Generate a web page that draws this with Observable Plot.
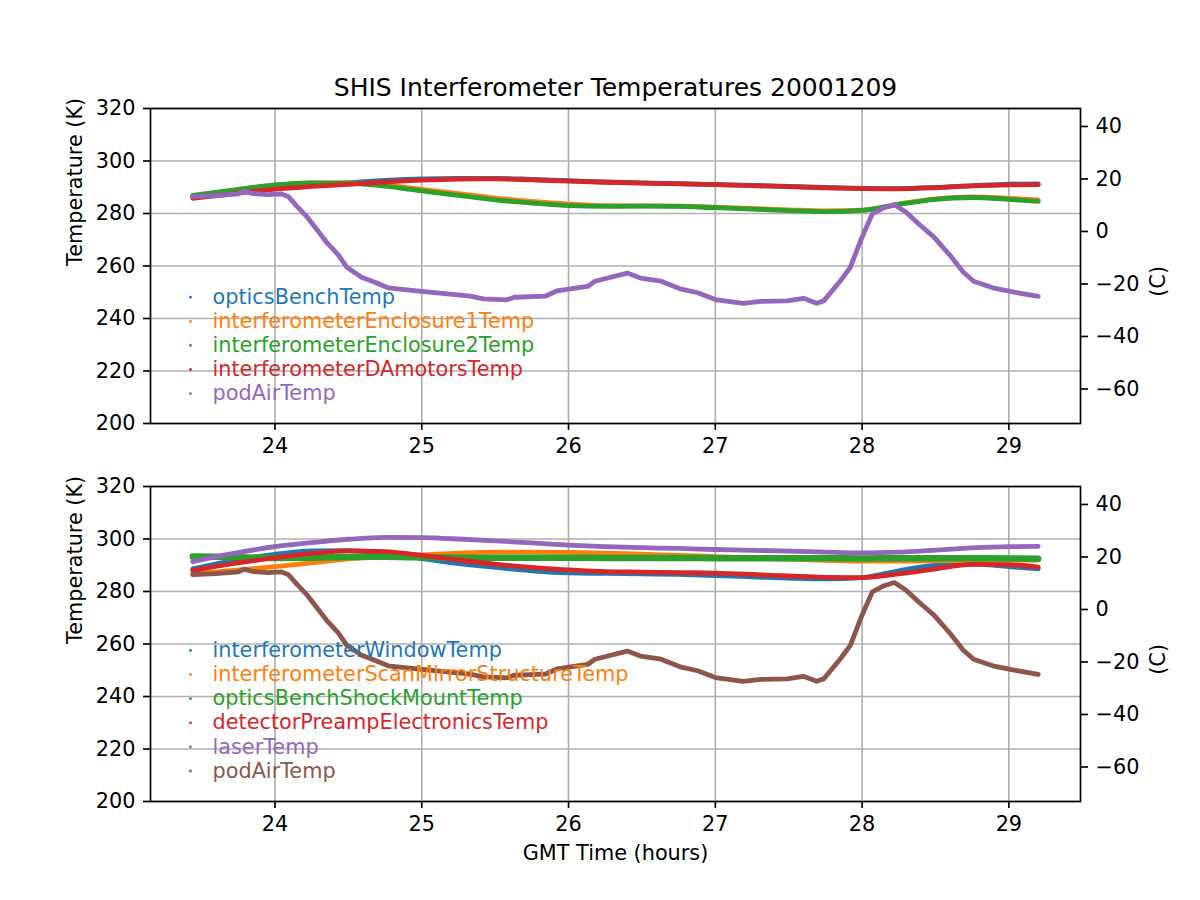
<!DOCTYPE html>
<html>
<head>
<meta charset="utf-8">
<script src="https://cdn.jsdelivr.net/npm/d3@7"></script>
<script src="https://cdn.jsdelivr.net/npm/@observablehq/plot@0.6"></script>
<style>
  html, body { margin: 0; padding: 0; background: #fff; }
  #chart { position: relative; width: 1200px; height: 900px; font-family: "DejaVu Sans", sans-serif; }
  #chart svg { position: absolute; left: 0; }
</style>
</head>
<body>
<div id="chart"></div>
<script>
// ---- data ----
const title = "SHIS Interferometer Temperatures 20001209";
const xLabel = "GMT Time (hours)";
const yLabel = "Temperature (K)";
const y2Label = "(C)";
const xTicks = [24, 25, 26, 27, 28, 29];
const yTicks = [200, 220, 240, 260, 280, 300, 320];
const cTicks = [-60, -40, -20, 0, 20, 40];

const hours = [23.44, 23.7, 24.0, 24.25, 24.5, 24.75, 25.0, 25.25, 25.5, 25.75, 26.0, 26.25, 26.5, 26.75, 27.0, 27.25, 27.5, 27.75, 28.0, 28.25, 28.5, 28.75, 29.0, 29.2];

const opticsBenchTemp = [286.4, 287.9, 289.6, 290.7, 291.7, 292.6, 293.2, 293.4, 293.4, 293.0, 292.5, 292.0, 291.7, 291.4, 291.0, 290.7, 290.3, 289.9, 289.6, 289.5, 289.9, 290.6, 291.2, 291.3];
const interferometerEnclosure1Temp = [286.6, 288.7, 290.8, 291.7, 291.7, 290.8, 289.2, 287.6, 285.9, 284.6, 283.6, 283.0, 282.9, 282.8, 282.4, 281.9, 281.4, 281.0, 281.3, 283.6, 285.6, 286.3, 285.8, 285.2];
const interferometerEnclosure2Temp = [286.9, 288.8, 290.9, 291.7, 291.6, 290.4, 288.6, 286.9, 285.2, 284.0, 283.0, 282.7, 282.8, 282.7, 282.2, 281.7, 281.1, 280.7, 281.2, 283.5, 285.4, 286.1, 285.4, 284.6];
const interferometerDAmotorsTemp = [285.8, 287.4, 289.3, 290.3, 291.1, 292.0, 292.7, 293.1, 293.2, 292.8, 292.3, 291.9, 291.6, 291.3, 291.0, 290.6, 290.2, 289.8, 289.5, 289.4, 289.8, 290.5, 290.9, 291.0];

const podAirHours = [23.44, 23.6, 23.75, 23.79, 23.85, 23.95, 24.04, 24.09, 24.15, 24.22, 24.29, 24.36, 24.43, 24.49, 24.59, 24.68, 24.77, 24.9, 25.0, 25.33, 25.42, 25.58, 25.63, 25.84, 25.92, 26.13, 26.18, 26.40, 26.49, 26.63, 26.76, 26.88, 27.0, 27.19, 27.31, 27.49, 27.60, 27.69, 27.74, 27.85, 27.92, 27.99, 28.07, 28.15, 28.22, 28.30, 28.39, 28.49, 28.60, 28.69, 28.76, 28.89, 29.01, 29.2];
const podAirTemp = [286.4, 286.8, 287.5, 288.5, 287.6, 287.2, 287.5, 286.5, 282.7, 278.6, 273.5, 268.5, 264.3, 259.5, 255.7, 253.8, 251.7, 250.9, 250.3, 248.5, 247.5, 247.1, 248.1, 248.5, 250.5, 252.2, 254.2, 257.3, 255.4, 254.2, 251.3, 249.8, 247.2, 245.8, 246.5, 246.7, 247.7, 245.8, 246.8, 254.2, 259.5, 269.7, 279.9, 282.2, 283.4, 280.5, 275.8, 271.0, 264.0, 257.6, 254.2, 251.7, 250.3, 248.4];

const interferometerWindowTemp = [288.6, 291.6, 294.1, 295.5, 295.6, 294.3, 292.5, 290.6, 289.2, 287.9, 287.1, 286.9, 286.7, 286.5, 286.1, 285.6, 285.1, 284.8, 285.3, 287.9, 289.9, 290.5, 289.5, 288.6];
const interferometerScanMirrorStructureTemp = [286.7, 287.9, 289.5, 290.9, 292.4, 293.3, 293.9, 294.6, 295.0, 295.0, 294.9, 294.6, 294.2, 293.8, 293.3, 292.8, 292.3, 291.9, 291.6, 291.6, 291.7, 291.9, 292.0, 292.0];
const opticsBenchShockMountTemp = [293.3, 293.1, 292.8, 292.9, 293.1, 293.2, 293.0, 292.9, 292.9, 292.9, 292.9, 292.8, 292.8, 292.8, 292.7, 292.7, 292.7, 292.7, 292.6, 292.7, 292.7, 292.7, 292.6, 292.5];
const detectorPreampElectronicsTemp = [288.0, 290.5, 292.8, 294.5, 295.5, 295.2, 293.8, 292.0, 290.4, 289.2, 288.2, 287.6, 287.4, 287.2, 287.0, 286.5, 285.9, 285.4, 285.3, 286.7, 288.6, 290.3, 290.2, 289.3];
const laserTemp = [291.4, 294.3, 297.1, 298.6, 299.9, 300.6, 300.5, 300.0, 299.3, 298.5, 297.7, 297.1, 296.7, 296.4, 296.0, 295.7, 295.4, 295.0, 294.7, 295.0, 295.8, 296.6, 297.1, 297.2];

const colors = ["#1f77b4", "#ff7f0e", "#2ca02c", "#d62728", "#9467bd", "#8c564b"];

const topSeries = [
  {name: "opticsBenchTemp", x: hours, y: opticsBenchTemp},
  {name: "interferometerEnclosure1Temp", x: hours, y: interferometerEnclosure1Temp},
  {name: "interferometerEnclosure2Temp", x: hours, y: interferometerEnclosure2Temp},
  {name: "interferometerDAmotorsTemp", x: hours, y: interferometerDAmotorsTemp},
  {name: "podAirTemp", x: podAirHours, y: podAirTemp, linear: true}
];
const bottomSeries = [
  {name: "interferometerWindowTemp", x: hours, y: interferometerWindowTemp},
  {name: "interferometerScanMirrorStructureTemp", x: hours, y: interferometerScanMirrorStructureTemp},
  {name: "opticsBenchShockMountTemp", x: hours, y: opticsBenchShockMountTemp, width: 6.5},
  {name: "detectorPreampElectronicsTemp", x: hours, y: detectorPreampElectronicsTemp},
  {name: "laserTemp", x: hours, y: laserTemp},
  {name: "podAirTemp", x: podAirHours, y: podAirTemp, linear: true}
];

// ---- drawing ----
const K0 = 273.15;
const allX = hours.concat(podAirHours);
const [x0, x1] = d3.extent(allX);
const pad = (x1 - x0) * 0.05;
const xDomain = [x0 - pad, x1 + pad];
const fs = 20.8;
const lw = 1.67;
const grid = "#b0b0b0";
const minus = v => v < 0 ? "\u2212" + Math.abs(v) : String(v);

function panel(series, opts) {
  const marks = [
    Plot.gridX({ticks: xTicks, stroke: grid, strokeOpacity: 1, strokeWidth: lw}),
    Plot.gridY({ticks: yTicks, stroke: grid, strokeOpacity: 1, strokeWidth: lw})
  ];
  series.forEach((s, i) => {
    marks.push(Plot.line(s.y, {
      x: s.x, y: s.y, stroke: colors[i], strokeWidth: s.width || 4.8,
      strokeLinecap: "round", strokeLinejoin: "round",
      curve: s.linear ? "linear" : "monotone-x"
    }));
  });
  // legend (no frame, small pixel markers)
  series.forEach((s, i) => {
    const dy = opts.legendTop + i * 24.1;
    marks.push(Plot.dot([s.name], {frameAnchor: "top-left", dx: 40, dy, r: 1.4, fill: colors[i], stroke: null}));
    marks.push(Plot.text([s.name], {frameAnchor: "top-left", dx: 62, dy, text: d => d, textAnchor: "start", lineAnchor: "middle", fill: colors[i], fontSize: fs}));
  });
  marks.push(
    Plot.frame({stroke: "black", strokeWidth: lw}),
    Plot.axisX({ticks: xTicks, tickSize: 7, tickPadding: 8, strokeWidth: lw, label: null, fontSize: fs, tickFormat: d => String(d)}),
    Plot.axisY({anchor: "left", ticks: yTicks, tickSize: 7, tickPadding: 8, strokeWidth: lw, label: null, fontSize: fs, tickFormat: d => String(d)}),
    Plot.axisY({anchor: "right", ticks: cTicks.map(c => c + K0), tickSize: 7, tickPadding: 8, strokeWidth: lw, label: null, fontSize: fs,
      tickFormat: k => minus(Math.round(k - K0))}),
    Plot.text([yLabel], {frameAnchor: "left", dx: -75, rotate: -90, text: d => d, lineAnchor: "middle", fontSize: fs, fill: "black"}),
    Plot.text([y2Label], {frameAnchor: "right", dx: 78, rotate: -90, text: d => d, lineAnchor: "middle", fontSize: fs, fill: "black"})
  );
  if (opts.title) marks.push(Plot.text([opts.title], {frameAnchor: "top", dy: -21, text: d => d, lineAnchor: "middle", fontSize: 25, fill: "black"}));
  if (opts.xLabel) marks.push(Plot.text([opts.xLabel], {frameAnchor: "bottom", dy: 52, text: d => d, lineAnchor: "middle", fontSize: fs, fill: "black"}));

  const svg = Plot.plot({
    width: 1200, height: opts.height,
    marginLeft: 150, marginRight: 120, marginTop: opts.marginTop, marginBottom: opts.marginBottom,
    x: {domain: xDomain},
    y: {domain: [200, 320]},
    style: {background: "transparent", color: "black", fontFamily: "'DejaVu Sans', sans-serif", fontSize: fs + "px", overflow: "visible"},
    marks
  });
  svg.style.top = opts.top + "px";
  return svg;
}

const chart = document.getElementById("chart");
chart.appendChild(panel(topSeries, {top: 0, height: 470, marginTop: 108, marginBottom: 47, legendTop: 188.7, title}));
chart.appendChild(panel(bottomSeries, {top: 470, height: 430, marginTop: 16, marginBottom: 99, legendTop: 164, xLabel}));
</script>
</body>
</html>
